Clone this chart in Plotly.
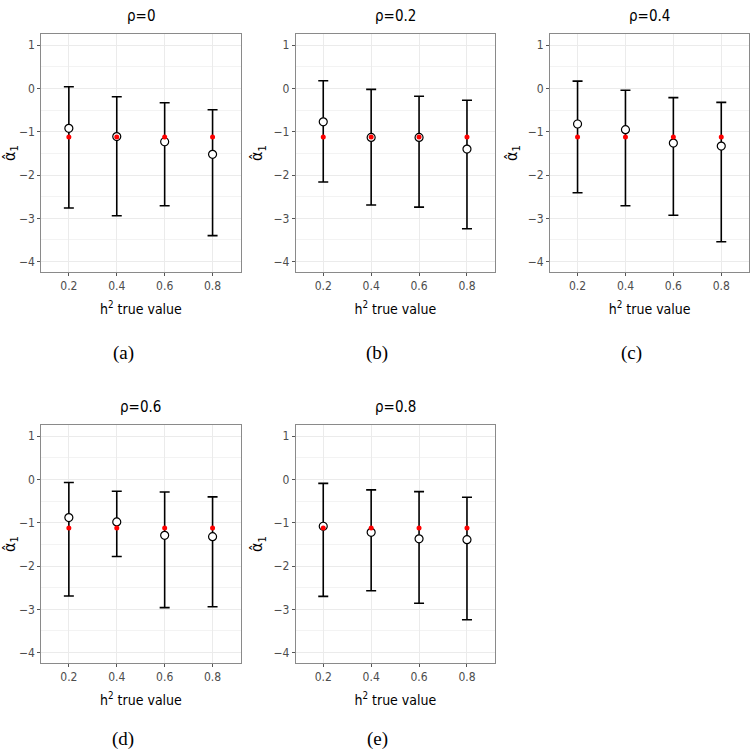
import plotly.graph_objects as go

# ---- data ----
h2_values = [0.2, 0.4, 0.6, 0.8]
rho_labels = ["ρ=0", "ρ=0.2", "ρ=0.4", "ρ=0.6", "ρ=0.8"]
sub_labels = ["(a)", "(b)", "(c)", "(d)", "(e)"]
true_alpha1 = -1.12

est_rho0 = [-0.92, -1.11, -1.23, -1.52]
upper_rho0 = [0.04, -0.19, -0.33, -0.49]
lower_rho0 = [-2.76, -2.94, -2.71, -3.40]

est_rho02 = [-0.77, -1.13, -1.13, -1.40]
upper_rho02 = [0.18, -0.02, -0.18, -0.27]
lower_rho02 = [-2.16, -2.69, -2.74, -3.24]

est_rho04 = [-0.82, -0.95, -1.26, -1.33]
upper_rho04 = [0.17, -0.04, -0.21, -0.32]
lower_rho04 = [-2.41, -2.71, -2.93, -3.54]

est_rho06 = [-0.88, -0.98, -1.29, -1.32]
upper_rho06 = [-0.07, -0.27, -0.29, -0.40]
lower_rho06 = [-2.69, -1.78, -2.96, -2.94]

est_rho08 = [-1.08, -1.22, -1.37, -1.39]
upper_rho08 = [-0.09, -0.24, -0.28, -0.41]
lower_rho08 = [-2.70, -2.57, -2.86, -3.24]

estimates = [est_rho0, est_rho02, est_rho04, est_rho06, est_rho08]
uppers = [upper_rho0, upper_rho02, upper_rho04, upper_rho06, upper_rho08]
lowers = [lower_rho0, lower_rho02, lower_rho04, lower_rho06, lower_rho08]

# ---- layout geometry (pixels) ----
W, H = 756, 751
col_left = [41.3, 295.7, 550.0]
panel_w = 199.3
row_top = [34.0, 425.0]
panel_h = 238.0
sub_y = [353.0, 738.5]
positions = [(0, 0), (0, 1), (0, 2), (1, 0), (1, 1)]

SANS = "Liberation Sans Narrow, DejaVu Sans Condensed, Liberation Sans, Arial"
SERIF = "Liberation Serif, DejaVu Serif, serif"

fig = go.Figure()
layout = dict(
    width=W, height=H,
    margin=dict(l=0, r=0, t=0, b=0),
    paper_bgcolor="white", plot_bgcolor="white",
    showlegend=False,
    annotations=[],
)

for i in range(5):
    r, c = positions[i]
    x0 = col_left[c] / W
    x1 = (col_left[c] + panel_w) / W
    y1 = 1 - row_top[r] / H
    y0 = 1 - (row_top[r] + panel_h) / H
    sfx = "" if i == 0 else str(i + 1)
    xa, ya = "x" + sfx, "y" + sfx

    est = estimates[i]
    up = [u - e for u, e in zip(uppers[i], est)]
    dn = [e - l for e, l in zip(est, lowers[i])]

    fig.add_trace(go.Scatter(
        x=h2_values, y=est, mode="markers", xaxis=xa, yaxis=ya,
        marker=dict(size=8, color="white", line=dict(color="black", width=1.2)),
        error_y=dict(type="data", symmetric=False, array=up, arrayminus=dn,
                     color="black", thickness=1.6, width=5),
    ))
    fig.add_trace(go.Scatter(
        x=h2_values, y=[true_alpha1] * len(h2_values), mode="markers",
        xaxis=xa, yaxis=ya,
        marker=dict(size=5, color="red"),
    ))

    layout["xaxis" + sfx] = dict(
        domain=[x0, x1], anchor=ya, range=[0.085, 0.917],
        tickvals=h2_values, ticktext=["0.2", "0.4", "0.6", "0.8"],
        showgrid=True, gridcolor="#EBEBEB", gridwidth=1, zeroline=False,
        showline=True, mirror=True, linecolor="#8A8A8A", linewidth=1,
        ticks="outside", ticklen=3, tickcolor="#555555",
        tickfont=dict(family=SANS, size=12, color="#4D4D4D"),
        title=dict(text="h<sup>2</sup> true value", standoff=11,
                   font=dict(family=SANS, size=14, color="black")),
    )
    layout["yaxis" + sfx] = dict(
        domain=[y0, y1], anchor=xa, range=[-4.24, 1.26],
        tickvals=[-4, -3, -2, -1, 0, 1],
        showgrid=True, gridcolor="#EBEBEB", gridwidth=1, zeroline=False,
        minor=dict(dtick=0.5, tick0=0, showgrid=True, gridcolor="#F3F3F3",
                   gridwidth=0.7, ticks=""),
        showline=True, mirror=True, linecolor="#8A8A8A", linewidth=1,
        ticks="outside", ticklen=3, tickcolor="#555555",
        tickfont=dict(family=SANS, size=12, color="#4D4D4D"),
        title=dict(text="α̂<sub>1</sub>", standoff=6,
                   font=dict(family=SANS, size=16, color="black")),
    )

    cx = (x0 + x1) / 2
    layout["annotations"].append(dict(
        text=rho_labels[i], x=cx, y=1 - (row_top[r] - 18) / H,
        xref="paper", yref="paper", showarrow=False,
        xanchor="center", yanchor="middle",
        font=dict(family=SANS, size=15, color="black"),
    ))
    layout["annotations"].append(dict(
        text=sub_labels[i], x=(col_left[c] + 81.7) / W,
        y=1 - sub_y[r] / H,
        xref="paper", yref="paper", showarrow=False,
        xanchor="center", yanchor="middle",
        font=dict(family=SERIF, size=19, color="black"),
    ))

fig.update_layout(**layout)
fig.write_html("out.html")
